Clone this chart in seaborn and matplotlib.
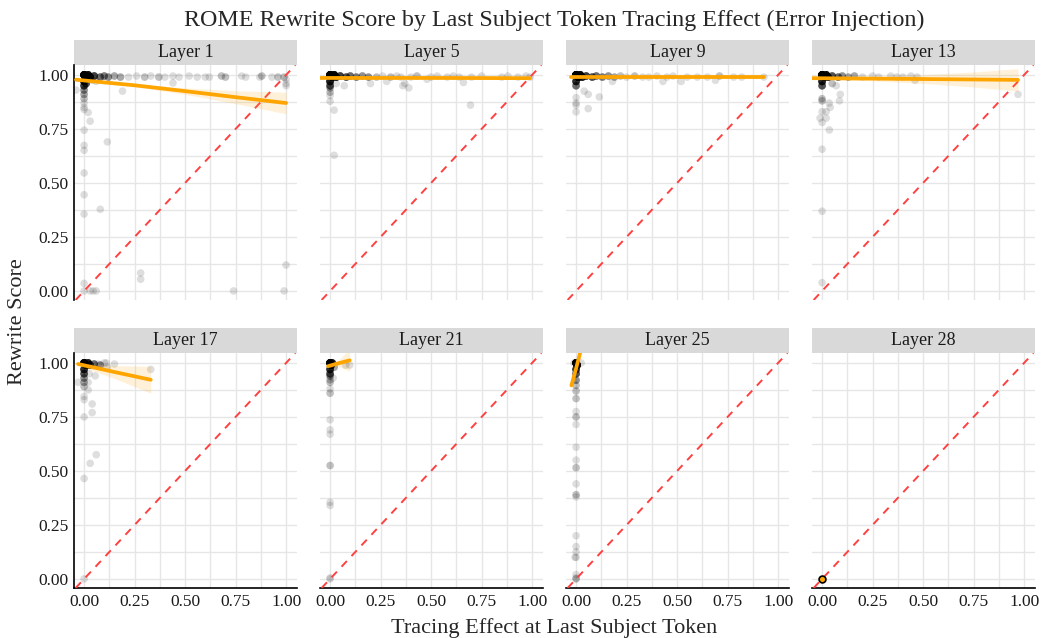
import numpy as np
import pandas as pd
import matplotlib
matplotlib.use("Agg")
import matplotlib.pyplot as plt
from matplotlib.patches import Rectangle
import seaborn as sns

# values
layers = ["Layer 1", "Layer 5", "Layer 9", "Layer 13", "Layer 17", "Layer 21", "Layer 25", "Layer 28"]

# points per layer: x (tracing effect), y (rewrite score), n (how many overlap there)
l1_x = [0.00, 0.01, 0.02, 0.03, 0.00, 0.00, 0.01, 0.05, 0.08, 0.10, 0.12, 0.15, 0.18, 0.00, 0.00, 0.00, 0.00, 0.00, 0.00,
        0.22, 0.26, 0.30, 0.33, 0.37, 0.40, 0.44, 0.47, 0.52, 0.56, 0.60, 0.62, 0.68, 0.70, 0.78, 0.80, 0.87, 0.88, 0.93, 0.96, 0.99,
        0.44, 0.19, 0.03, 0.02, 0.00, 0.00, 0.00, 0.115, 0.00, 0.00, 0.00, 0.08, 0.28, 0.28, 0.74, 0.99, 1.00,
        0.00, 0.00, 0.03, 0.045, 0.06, -0.04, 1.00, 1.00, 1.00, 0.06, 0.04]
l1_y = [1.00, 0.99, 1.00, 0.99, 0.97, 0.95, 0.96, 0.995, 0.99, 0.995, 0.99, 0.995, 0.99, 0.93, 0.91, 0.89, 0.87, 0.85, 0.84,
        0.99, 0.995, 0.99, 0.995, 0.99, 0.99, 0.995, 0.99, 0.995, 0.99, 0.99, 0.99, 0.995, 0.99, 0.995, 0.99, 0.99, 0.995, 0.99, 0.99, 0.99,
        0.963, 0.925, 0.786, 0.826, 0.744, 0.674, 0.651, 0.69, 0.546, 0.445, 0.356, 0.378, 0.083, 0.054, 0.00, 0.00, 0.12,
        0.035, 0.00, 0.00, 0.00, 0.00, 0.93, 0.98, 0.96, 0.95, 0.97, 0.975]
l1_n = [40, 30, 20, 15, 15, 10, 8, 10, 6, 5, 4, 3, 3, 4, 3, 2, 1, 1, 1,
        1, 1, 2, 1, 2, 1, 1, 1, 1, 1, 1, 1, 2, 2, 1, 1, 1, 2, 1, 2, 2,
        1, 1, 1, 1, 1, 1, 1, 1, 1, 1, 1, 1, 1, 1, 1, 1, 1,
        1, 1, 1, 1, 1, 1, 1, 1, 1, 1, 1]

l5_x = [0.00, 0.01, 0.02, 0.03, 0.00, 0.00, 0.05, 0.08, 0.10, 0.13, 0.16, 0.19, 0.00, 0.00, 0.00, 0.00,
        0.02, 0.02, 0.695, 0.36, 0.37, 0.39, 0.66, 0.20, 0.07, 0.03, 0.28, 0.48, 0.99,
        0.23, 0.26, 0.30, 0.33, 0.35, 0.40, 0.43, 0.50, 0.53, 0.58, 0.61, 0.64, 0.70, 0.75, 0.85, 0.88, 0.93, 0.97]
l5_y = [1.00, 0.99, 1.00, 0.99, 0.97, 0.95, 0.995, 0.99, 0.995, 0.99, 0.995, 0.99, 0.94, 0.92, 0.905, 0.878,
        0.837, 0.628, 0.86, 0.95, 0.96, 0.94, 0.965, 0.96, 0.95, 0.96, 0.97, 0.98, 0.99,
        0.99, 0.995, 0.99, 0.995, 0.99, 0.99, 0.995, 0.99, 0.995, 0.99, 0.995, 0.99, 0.99, 0.995, 0.99, 0.995, 0.99, 0.995]
l5_n = [50, 35, 25, 15, 15, 8, 10, 8, 6, 5, 4, 4, 3, 2, 1, 1,
        1, 1, 1, 1, 1, 1, 1, 1, 1, 1, 1, 1, 1,
        2, 1, 2, 1, 1, 1, 2, 1, 1, 1, 1, 1, 1, 1, 1, 1, 1, 1]

l9_x = [0.00, 0.01, 0.02, 0.03, 0.00, 0.00, 0.05, 0.08, 0.10, 0.13, 0.16, 0.19,
        0.00, 0.06, 0.115, 0.00, 0.00, 0.00, 0.06, 0.04, 0.43, 0.52, 0.69, 0.93, 0.18,
        0.22, 0.25, 0.29, 0.33, 0.36, 0.40, 0.45, 0.48, 0.55, 0.60, 0.65, 0.71, 0.78, 0.82]
l9_y = [1.00, 0.99, 1.00, 0.99, 0.97, 0.95, 0.995, 0.99, 0.995, 0.99, 0.995, 0.99,
        0.829, 0.844, 0.898, 0.86, 0.87, 0.895, 0.91, 0.925, 0.97, 0.97, 0.975, 0.99, 0.97,
        0.995, 0.99, 0.995, 0.99, 0.99, 0.995, 0.99, 0.995, 0.99, 0.99, 0.99, 0.995, 0.99, 0.99]
l9_n = [55, 35, 25, 15, 12, 6, 10, 8, 6, 5, 4, 3,
        1, 1, 1, 1, 1, 1, 1, 1, 1, 1, 1, 1, 1,
        2, 1, 2, 1, 1, 1, 1, 1, 1, 1, 1, 2, 1, 1]

l13_x = [0.00, 0.01, 0.02, 0.03, 0.00, 0.00, 0.05, 0.08, 0.10, 0.13, 0.16,
         0.97, 0.00, 0.036, -0.01, 0.02, 0.00, 0.00, 0.02, 0.04, 0.00, 0.086, 0.035, 0.00, 0.09, 0.46,
         0.00, 0.00, 0.20, 0.25, 0.28, 0.34, 0.37, 0.40, 0.44, 0.47, 0.05, 0.07]
l13_y = [1.00, 0.99, 1.00, 0.99, 0.97, 0.95, 0.995, 0.99, 0.995, 0.99, 0.995,
         0.91, 0.656, 0.745, 0.80, 0.80, 0.78, 0.83, 0.83, 0.85, 0.88, 0.88, 0.87, 0.89, 0.91, 0.975,
         0.369, 0.038, 0.99, 0.995, 0.99, 0.995, 0.99, 0.99, 0.995, 0.99, 0.96, 0.95]
l13_n = [50, 30, 22, 14, 14, 8, 8, 6, 4, 3, 3,
         1, 1, 1, 1, 1, 1, 1, 1, 1, 2, 1, 1, 2, 1, 1,
         1, 1, 1, 1, 1, 1, 1, 1, 1, 1, 2, 1]

l17_x = [0.00, 0.01, 0.02, 0.03, 0.00, 0.00, 0.05, 0.08, 0.00, 0.00,
         0.00, 0.00, 0.03, 0.06, 0.04, 0.04, 0.00, 0.00, 0.00, -0.03, 0.02, 0.055, 0.15, 0.11, 0.33, 0.115, 0.025,
         0.00, 0.02, 0.10, 0.07]
l17_y = [1.00, 0.99, 1.00, 0.99, 0.97, 0.95, 0.995, 0.99, 0.93, 0.91,
         0.00, 0.465, 0.535, 0.575, 0.77, 0.81, 0.75, 0.83, 0.845, 0.91, 0.875, 0.94, 0.995, 1.00, 0.97, 0.98, 0.95,
         0.89, 0.91, 1.00, 0.995]
l17_n = [35, 25, 15, 10, 12, 8, 6, 4, 4, 3,
         1, 1, 1, 1, 1, 1, 1, 1, 1, 1, 1, 1, 1, 1, 1, 1, 1,
         2, 1, 1, 1]

l21_x = [0.00, 0.005, 0.01, 0.00, 0.00, 0.00, 0.00, 0.00, 0.00, 0.00, 0.00, 0.00, 0.00, 0.00,
         0.00, 0.00, 0.00, 0.00, 0.077, 0.097, 0.015, 0.02]
l21_y = [1.00, 0.99, 1.00, 0.97, 0.95, 0.922, 0.91, 0.88, 0.86, 0.737, 0.69, 0.67, 0.525, 0.355,
         0.34, 0.005, 0.00, 0.94, 0.99, 0.99, 0.93, 0.98]
l21_n = [40, 25, 15, 12, 8, 2, 2, 1, 2, 1, 1, 1, 2, 1,
         1, 1, 1, 4, 1, 1, 1, 3]

l25_x = [0.00, 0.005, 0.00, 0.00, 0.00, 0.00, 0.00, 0.00, 0.00, 0.00, 0.00, 0.00, 0.00, 0.00, 0.00, 0.00,
         0.00, 0.00, 0.00, 0.00, -0.005, 0.00, 0.00, 0.00, 0.025, -0.01, 0.00]
l25_y = [1.00, 0.99, 0.97, 0.95, 0.92, 0.896, 0.87, 0.835, 0.775, 0.75, 0.715, 0.61, 0.55, 0.515, 0.44, 0.39,
         0.38, 0.20, 0.15, 0.125, 0.10, 0.10, 0.02, 0.00, 1.00, 1.00, 0.005]
l25_n = [45, 25, 12, 8, 4, 2, 2, 2, 1, 2, 1, 1, 1, 2, 1, 2,
         1, 1, 1, 1, 1, 1, 1, 2, 1, 1, 1]

l28_x = [0.00]
l28_y = [0.00]
l28_n = [1]

# fitted lines and confidence band half-widths
fit_x = {"Layer 1": [-0.04, 0.25, 0.5, 0.75, 1.0], "Layer 5": [-0.05, 0.5, 0.99],
         "Layer 9": [-0.025, 0.5, 0.93], "Layer 13": [-0.05, 0.25, 0.5, 0.75, 0.97],
         "Layer 17": [-0.03, 0.15, 0.33], "Layer 21": [-0.01, 0.04, 0.097],
         "Layer 25": [-0.023, 0.0, 0.022]}
fit_y = {"Layer 1": [0.978, 0.952, 0.925, 0.897, 0.87], "Layer 5": [0.986, 0.986, 0.985],
         "Layer 9": [0.99, 0.99, 0.99], "Layer 13": [0.985, 0.983, 0.981, 0.979, 0.977],
         "Layer 17": [0.995, 0.958, 0.922], "Layer 21": [0.985, 0.998, 1.012],
         "Layer 25": [0.896, 0.975, 1.054]}
band_w = {"Layer 1": [0.006, 0.006, 0.015, 0.03, 0.05], "Layer 5": [0.003, 0.002, 0.004],
          "Layer 9": [0.003, 0.002, 0.004], "Layer 13": [0.004, 0.01, 0.02, 0.035, 0.052],
          "Layer 17": [0.006, 0.03, 0.062], "Layer 21": [0.006, 0.015, 0.05],
          "Layer 25": [0.02, 0.005, 0.02]}

pts = {"Layer 1": (l1_x, l1_y, l1_n), "Layer 5": (l5_x, l5_y, l5_n), "Layer 9": (l9_x, l9_y, l9_n),
       "Layer 13": (l13_x, l13_y, l13_n), "Layer 17": (l17_x, l17_y, l17_n), "Layer 21": (l21_x, l21_y, l21_n),
       "Layer 25": (l25_x, l25_y, l25_n), "Layer 28": (l28_x, l28_y, l28_n)}

frames = []
for name in layers:
    xs, ys, ns = pts[name]
    frames.append(pd.DataFrame({"layer": name,
                                "effect": np.repeat(xs, ns),
                                "score": np.repeat(ys, ns)}))
df = pd.concat(frames, ignore_index=True)

sns.set_theme(style="white")
plt.rcParams["font.family"] = ["Liberation Serif", "DejaVu Serif"]

g = sns.FacetGrid(df, col="layer", col_wrap=4, col_order=layers, sharex=True, sharey=True,
                  height=2.35, aspect=223 / 235, despine=False)
g.map_dataframe(sns.scatterplot, x="effect", y="score", color="black", alpha=0.13,
                s=30, edgecolor="none", zorder=3)

fig = g.figure
fig.set_size_inches(10.42, 6.38)
fig.subplots_adjust(left=74 / 1042, right=1035 / 1042, top=1 - 65 / 638, bottom=1 - 588 / 638,
                    wspace=23 / 223, hspace=53 / 235)

ticks = [0.0, 0.25, 0.5, 0.75, 1.0]
minor = [0.125, 0.375, 0.625, 0.875]
for i, ax in enumerate(g.axes.flat):
    name = layers[i]
    ax.set_xlim(-0.05, 1.054)
    ax.set_ylim(-0.042, 1.046)
    ax.set_xticks(ticks)
    ax.set_yticks(ticks)
    ax.set_xticks(minor, minor=True)
    ax.set_yticks(minor, minor=True)
    ax.grid(True, which="both", color="#e6e6e6", linewidth=1.0, zorder=0)
    ax.set_axisbelow(True)
    ax.tick_params(which="both", length=0, labelsize=12.5, pad=4, colors="#1a1a1a")
    ax.set_xticklabels([f"{t:.2f}" for t in ticks])
    ax.set_yticklabels([f"{t:.2f}" for t in ticks])
    ax.set_title("")
    ax.set_xlabel("")
    ax.set_ylabel("")
    for s in ["top", "right"]:
        ax.spines[s].set_visible(False)
    row, col = divmod(i, 4)
    ax.spines["left"].set_visible(col == 0)
    ax.spines["bottom"].set_visible(row == 1)
    for s in ["left", "bottom"]:
        ax.spines[s].set_color("black")
        ax.spines[s].set_linewidth(1.2)

    ax.axline((0, 0), slope=1, color="#ff4040", linestyle=(0, (4, 3.5)), linewidth=1.4, zorder=4)

    if name in fit_x:
        fx = np.array(fit_x[name])
        fy = np.array(fit_y[name])
        bw = np.array(band_w[name])
        ax.fill_between(fx, fy - bw, fy + bw, color="#ffa500", alpha=0.15, linewidth=0, zorder=4)
        sns.lineplot(x=fx, y=fy, ax=ax, color="#ffa500", linewidth=2.7, zorder=5)
    else:
        xs, ys, ns = pts[name]
        sns.scatterplot(x=xs, y=ys, ax=ax, color="#ffa500", edgecolor="black", linewidth=1.2, s=24, zorder=6)

    # grey strip above each panel
    sh = 25 / 235
    ax.add_patch(Rectangle((0, 1), 1, sh, transform=ax.transAxes, facecolor="#d9d9d9",
                           edgecolor="none", clip_on=False))
    ax.text(0.5, 1 + sh / 2, name, transform=ax.transAxes, ha="center", va="center",
            fontsize=13, color="#1a1a1a")

fig.text(554.5 / 1042, 1 - 20 / 638, "ROME Rewrite Score by Last Subject Token Tracing Effect (Error Injection)",
         ha="center", va="center", fontsize=17.3)
fig.text(554.5 / 1042, 1 - 628 / 638, "Tracing Effect at Last Subject Token", ha="center", va="center", fontsize=16)
fig.text(18 / 1042, 1 - 322 / 638, "Rewrite Score", ha="center", va="center", rotation=90, fontsize=16)

fig.savefig("out.png", dpi=100)
